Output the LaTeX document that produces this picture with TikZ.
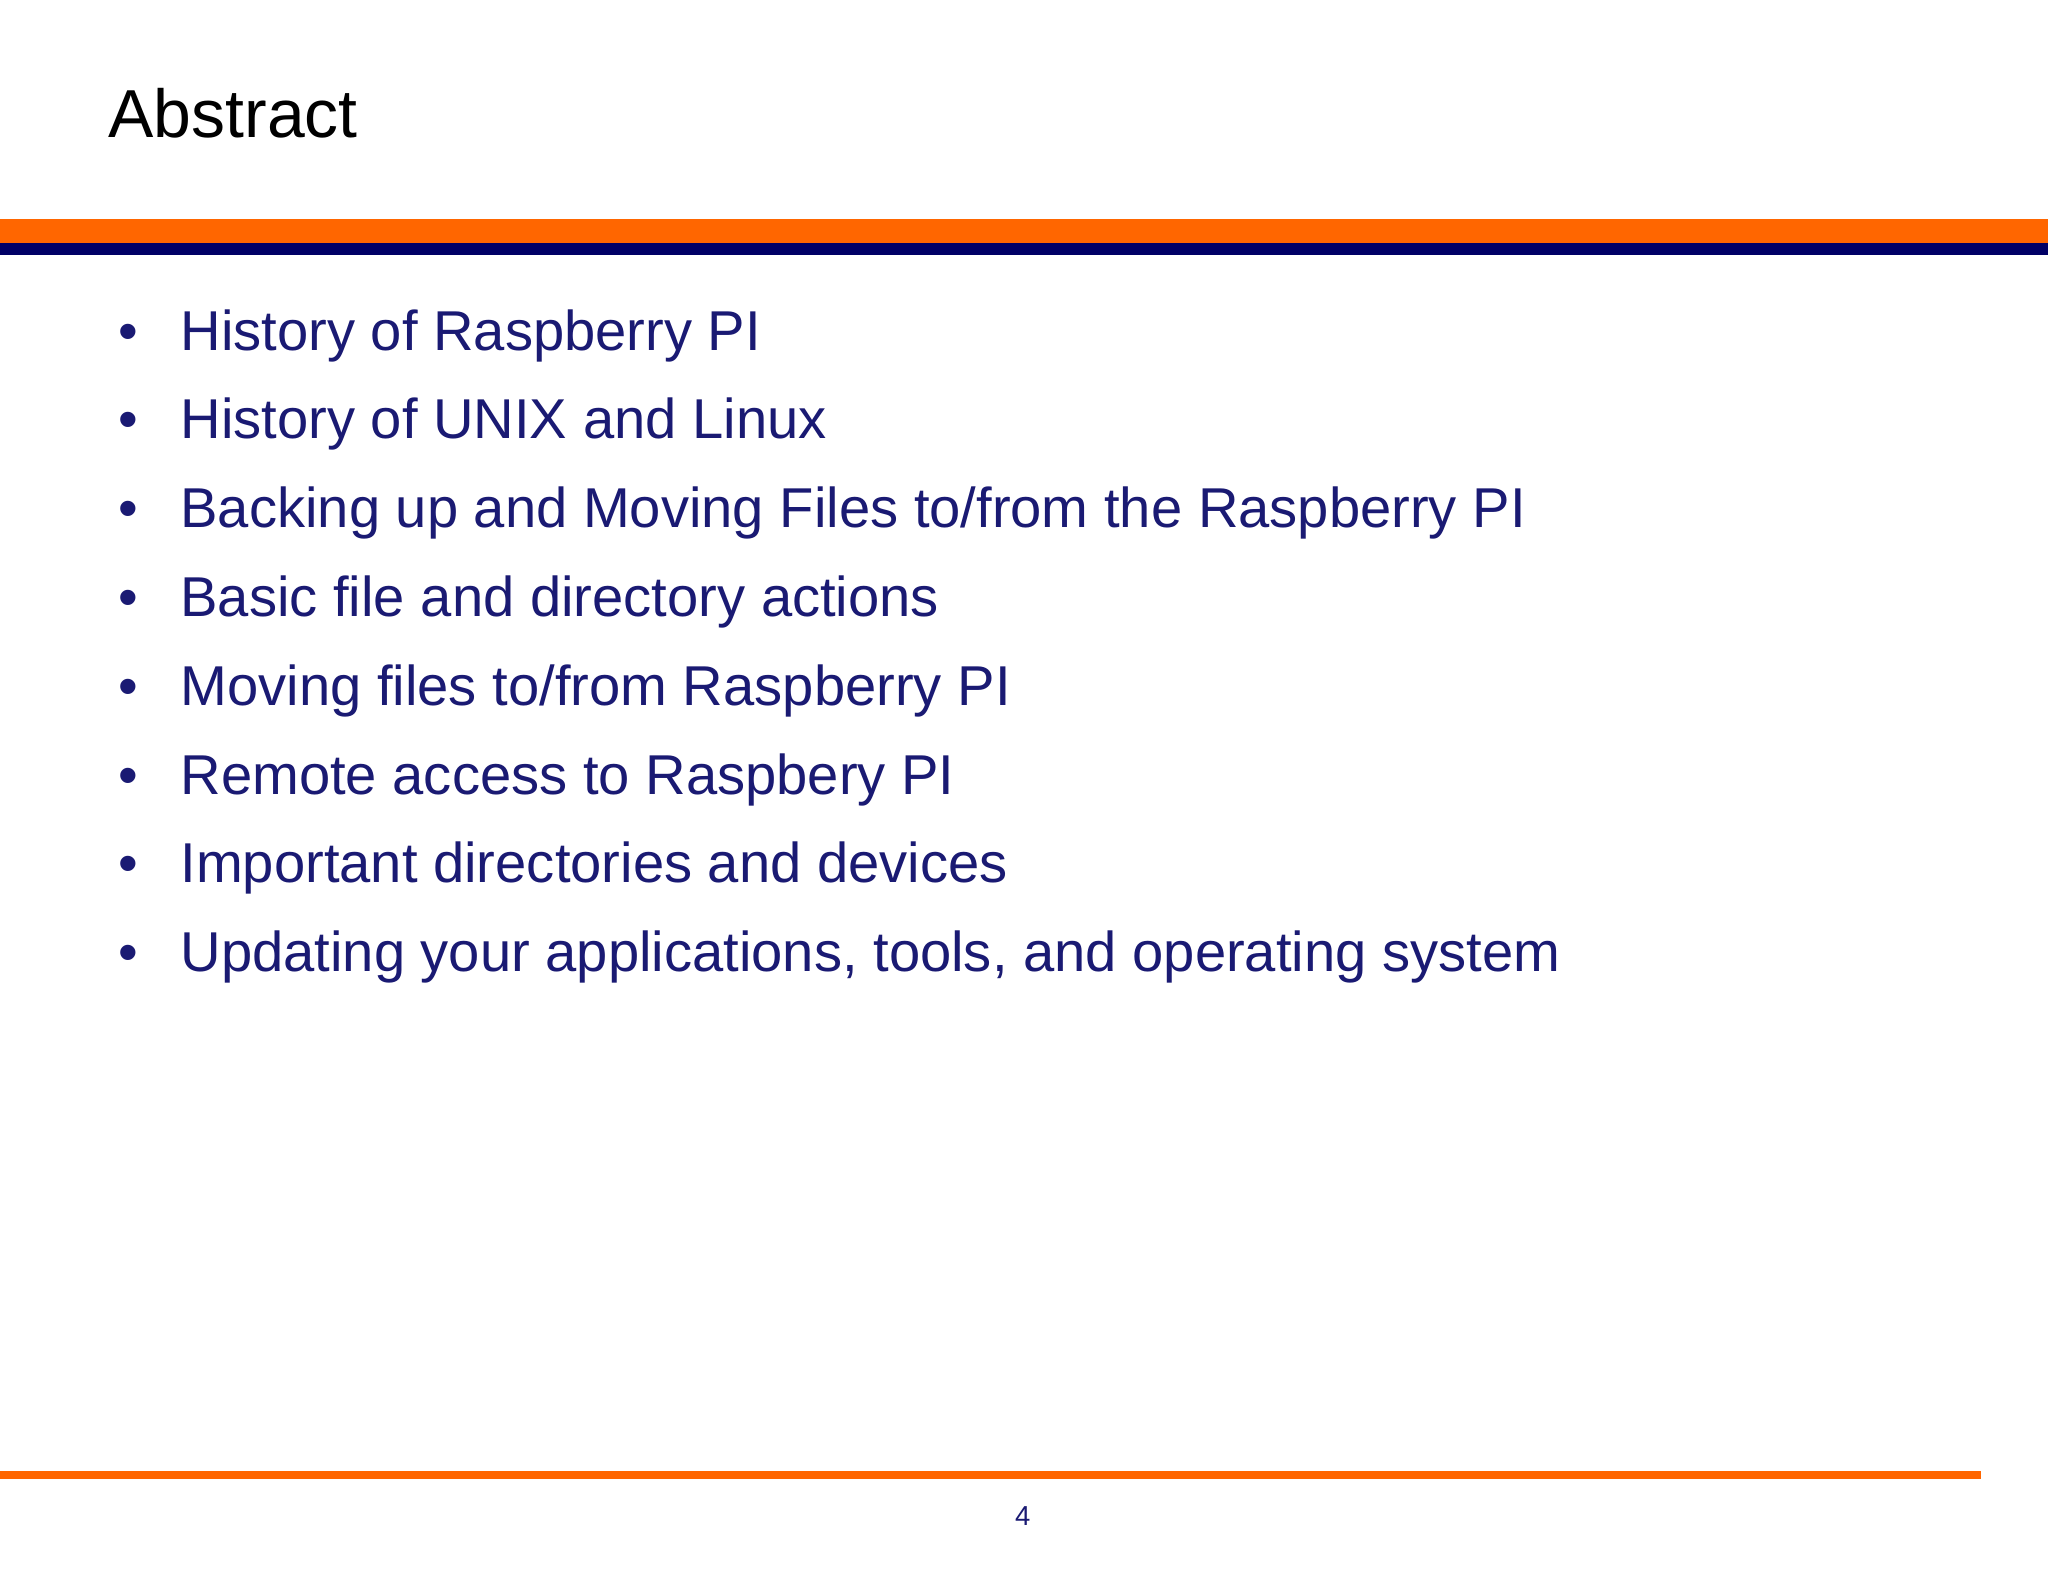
\documentclass[tikz,border=0pt]{standalone}
\usepackage{fontspec}
\setmainfont{Liberation Sans}
\definecolor{slideorange}{HTML}{FF6600}
\definecolor{slidenavy}{HTML}{000066}
\definecolor{itemblue}{HTML}{1A1A73}
\tikzset{
  item/.style={anchor=base west,text=itemblue,font=\fontsize{43}{50}\selectfont,inner sep=0pt},
  dot/.style={anchor=base,text=itemblue,font=\fontsize{43}{50}\selectfont,inner sep=0pt}
}
\begin{document}
\begin{tikzpicture}[x=1pt,y=-1pt]
    \useasboundingbox (0,0) rectangle (1568,1211);
    \fill[white] (0,0) rectangle (1568,1211);
    % title and header bars
    \node(title)[anchor=base west,inner sep=0pt,font=\fontsize{52}{60}\selectfont] at (83,105) {Abstract};
    \fill[slideorange] (0,168) rectangle (1568,186);
    \fill[slidenavy] (0,186) rectangle (1568,195);
    % bullet list
    \foreach \txt [count=\i] in {History of Raspberry PI,History of UNIX and Linux,Backing up and Moving Files to/from the Raspberry PI,Basic file and directory actions,Moving files to/from Raspberry PI,Remote access to Raspbery PI,Important directories and devices,{Updating your applications, tools, and operating system}}{
      \node(dot\i)[dot] at (98,200+68*\i) {\textbullet};
      \node(item\i)[item] at (138,200+68*\i) {\txt};
    }
    % footer
    \fill[slideorange] (0,1126) rectangle (1517,1132);
    \node(page)[text=itemblue,font=\fontsize{21}{24}\selectfont] at (783,1161) {4};
\end{tikzpicture}
\end{document}
